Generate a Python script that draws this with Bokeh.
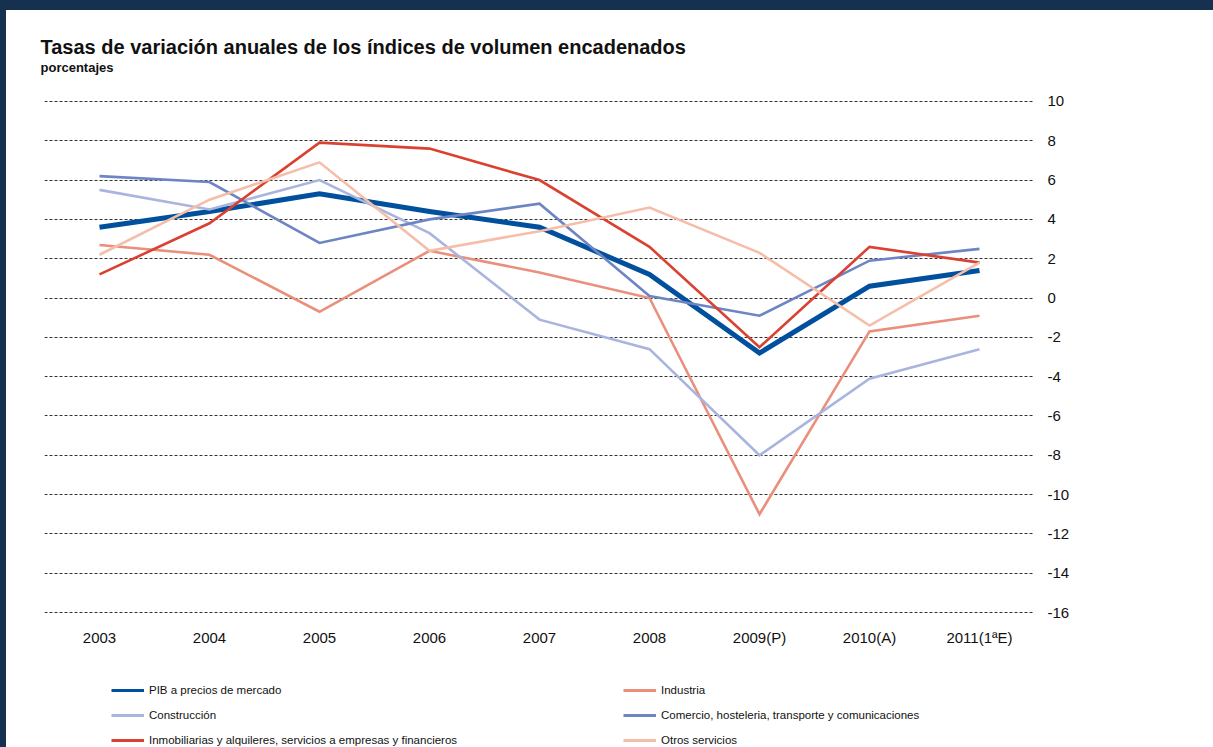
from bokeh.plotting import figure
from bokeh.models import Legend, LegendItem, FixedTicker, Range1d, Title, Spacer, PrintfTickFormatter
from bokeh.layouts import column, row
from bokeh.embed import file_html
from bokeh.resources import INLINE

years = ["2003", "2004", "2005", "2006", "2007", "2008", "2009(P)", "2010(A)", "2011(1ªE)"]
pib = [3.6, 4.4, 5.3, 4.4, 3.6, 1.2, -2.8, 0.6, 1.4]
industria = [2.7, 2.2, -0.7, 2.4, 1.3, 0.0, -11.0, -1.7, -0.9]
construccion = [5.5, 4.5, 6.0, 3.3, -1.1, -2.6, -8.0, -4.1, -2.6]
comercio = [6.2, 5.9, 2.8, 4.0, 4.8, 0.1, -0.9, 1.9, 2.5]
inmobiliarias = [1.2, 3.8, 7.9, 7.6, 6.0, 2.6, -2.5, 2.6, 1.8]
otros = [2.2, 5.0, 6.9, 2.4, 3.4, 4.6, 2.3, -1.4, 1.8]
y_ticks = [10, 8, 6, 4, 2, 0, -2, -4, -6, -8, -10, -12, -14, -16]

series_names = [
    "PIB a precios de mercado",
    "Industria",
    "Construcción",
    "Comercio, hosteleria, transporte y comunicaciones",
    "Inmobiliarias y alquileres, servicios a empresas y financieros",
    "Otros servicios",
]
series_vals = [pib, industria, construccion, comercio, inmobiliarias, otros]
colors = ["#00509e", "#e98f7b", "#a9b5de", "#6e85c4", "#da4130", "#f5bea9"]
widths = [5, 2.6, 2.6, 2.6, 2.6, 2.6]

FONT = "Liberation Sans"
NAVY = "#15314f"

p = figure(
    x_range=years,
    y_range=Range1d(-16.3, 10.3),
    width=1207, height=655,
    output_backend="svg", toolbar_location=None,
    min_border_left=38, min_border_right=179,
    min_border_top=85, min_border_bottom=47,
    y_axis_location="right",
    title="Tasas de variación anuales de los índices de volumen encadenados",
)
p.outline_line_color = None
p.background_fill_color = "white"
p.border_fill_color = "white"

p.title.text_font = FONT
p.title.text_font_size = "20px"
p.title.text_font_style = "bold"
p.title.text_color = "#111111"
p.title.offset = -4
p.title.standoff = -41
p.title.text_baseline = "middle"
p.add_layout(Title(text="porcentajes",
                   text_font=FONT, text_font_size="13px", text_font_style="bold",
                   text_color="#111111", offset=-4, standoff=41), "above")

for vals, c, w in zip(series_vals, colors, widths):
    p.line(years, vals, line_color=c, line_width=w, line_join="miter")

# grid
p.xgrid.grid_line_color = None
p.ygrid.ticker = FixedTicker(ticks=y_ticks)
p.ygrid.grid_line_color = "#333333"
p.ygrid.grid_line_dash = "3 2"
p.ygrid.grid_line_width = 1

# axes
p.yaxis.ticker = FixedTicker(ticks=y_ticks)
p.yaxis.formatter = PrintfTickFormatter(format="%d")
p.yaxis.axis_line_color = None
p.yaxis.major_tick_line_color = None
p.yaxis.minor_tick_line_color = None
p.yaxis.major_label_standoff = 7
p.yaxis.major_label_text_font = FONT
p.yaxis.major_label_text_font_size = "15px"
p.yaxis.major_label_text_color = "#111111"

p.xaxis.axis_line_color = None
p.xaxis.major_tick_line_color = None
p.xaxis.major_label_standoff = 4
p.xaxis.major_label_text_font = FONT
p.xaxis.major_label_text_font_size = "15px"
p.xaxis.major_label_text_color = "#111111"

# legend figure: swatch renderers sit outside its visible range, only the legend shows
lf = figure(width=1207, height=82, output_backend="svg", toolbar_location=None,
            x_range=Range1d(100, 101), y_range=Range1d(100, 101),
            min_border_left=0, min_border_right=0, min_border_top=0, min_border_bottom=0)
lf.axis.visible = False
lf.grid.visible = False
lf.outline_line_color = None
lf.border_fill_color = "white"
swatches = []
for vals, c in zip(series_vals, colors):
    swatches.append(lf.line(list(range(len(vals))), vals, line_color=c, line_width=3))

order = [0, 2, 4, 1, 3, 5]
items = [LegendItem(label=series_names[i], renderers=[swatches[i]]) for i in order]
legend = Legend(items=items, location=(67, 0), orientation="vertical", nrows=3,
                glyph_width=33, glyph_height=14, label_height=14, label_width=463,
                label_standoff=5, spacing=11, padding=0, margin=0,
                border_line_color=None, background_fill_alpha=0,
                label_text_font=FONT, label_text_font_size="11.5px",
                label_text_color="#111111")
lf.add_layout(legend, "center")

top_bar = Spacer(width=1213, height=10, styles={"background-color": NAVY})
left_bar = Spacer(width=6, height=737, styles={"background-color": NAVY})
layout = column(top_bar, row(left_bar, column(p, lf)))

open("out.html", "w").write(file_html(layout, INLINE))
